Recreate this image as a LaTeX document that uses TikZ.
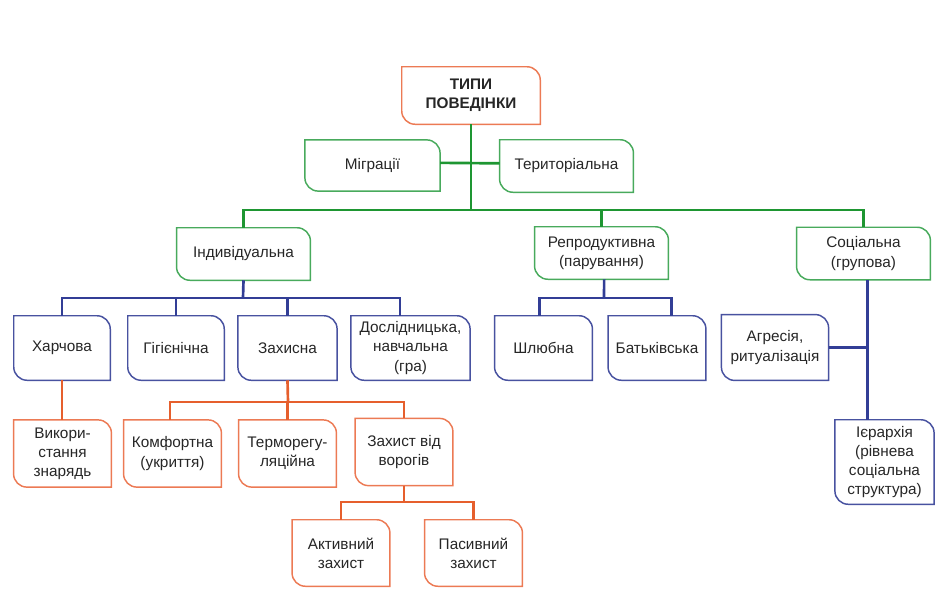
\documentclass[tikz,border=0pt]{standalone}
\usepackage{fontspec}
\setmainfont{Liberation Sans}
\usepackage{xcolor}
\usetikzlibrary{positioning}

\definecolor{orgbox}{RGB}{236,122,84}
\definecolor{orgline}{RGB}{230,95,45}
\definecolor{grnbox}{RGB}{72,170,92}
\definecolor{grnline}{RGB}{30,150,50}
\definecolor{blubox}{RGB}{72,82,160}
\definecolor{bluline}{RGB}{50,62,150}

\begin{document}
\begin{tikzpicture}[
  x=0.75pt, y=-0.75pt,
  font=\fontsize{11.5}{14.3}\selectfont, text=black!85,
  box/.style={align=center, inner sep=1pt, minimum width=73pt, minimum height=48pt},
  wide/.style={box, minimum width=100pt, minimum height=39pt},
  conn/.style={line width=2pt, line join=miter}
]
\useasboundingbox (0,0) rectangle (940,600);

% root and side branches
\node[box, minimum width=103.5pt, minimum height=42.75pt, font=\fontsize{11.5}{14.3}\selectfont\bfseries]
  (top) at (471,95.5) {ТИПИ\\ПОВЕДІНКИ};
\node[wide, minimum width=101pt, minimum height=38pt] (mig) at (372.5,165.5) {Міграції};
\node[wide] (ter) at (566.5,166) {Територіальна};

% main groups
\node[wide] (ind) at (243.5,254) {Індивідуальна};
\node[wide] (rep) at (601.5,253) {Репродуктивна\\(парування)};
\node[wide] (soc) at (863.5,253.5) {Соціальна\\(групова)};

% third level
\node[box, minimum width=72pt] (har) at (62,348) {Харчова};
\node[box, minimum width=72pt] (gig) at (176,348) {Гігієнічна};
\node[box, minimum width=74pt] (zah) at (287.5,348) {Захисна};
\node[box, minimum width=89pt] (dos) at (410.5,348) {Дослідницька,\\навчальна\\(гра)};
\node[box] (shl) at (543.5,348) {Шлюбна};
\node[box] (bat) at (657,348) {Батьківська};
\node[box, minimum width=80pt, minimum height=49pt] (agr) at (775,347.5) {Агресія,\\ритуалізація};
\node[box, minimum width=74pt, minimum height=63pt] (iie) at (884.5,462) {Ієрархія\\(рівнева\\соціальна\\структура)};

% fourth level
\node[box, minimum height=50pt] (vyk) at (62.5,453.5) {Викори-\\стання\\знарядь};
\node[box, minimum height=50pt] (kom) at (172.5,453.5) {Комфортна\\(укриття)};
\node[box, minimum height=50pt] (trm) at (287.5,453.5) {Терморегу-\\ляційна};
\node[box, minimum height=50pt] (zv) at (404,452) {Захист від\\ворогів};

% fifth level
\node[box, minimum height=49.5pt] (akt) at (341,553) {Активний\\захист};
\node[box, minimum height=49.5pt] (pas) at (473.5,553) {Пасивний\\захист};

% box outlines: rounded top right and bottom left
\foreach \n/\c in {top/orgbox, mig/grnbox, ter/grnbox, ind/grnbox, rep/grnbox, soc/grnbox,
                   har/blubox, gig/blubox, zah/blubox, dos/blubox, shl/blubox, bat/blubox,
                   agr/blubox, iie/blubox, vyk/orgbox, kom/orgbox, trm/orgbox, zv/orgbox,
                   akt/orgbox, pas/orgbox}
  \draw[\c, line width=1.1pt] (\n.north west) -- ([xshift=-10pt]\n.north east)
    arc[start angle=90, end angle=0, radius=10pt] -- (\n.south east)
    -- ([xshift=10pt]\n.south west) arc[start angle=-90, end angle=-180, radius=10pt] -- cycle;

% green connectors
\coordinate (gbus) at (471,210);
\draw[conn, grnline] (top.south) -- (gbus);
\draw[conn, grnline] ([yshift=2pt]mig.east) -- ([yshift=2pt]ter.west);
\draw[conn, grnline] (ind.north) |- (gbus) -| (soc.north);
\draw[conn, grnline] (gbus -| rep.north) -- (rep.north);

% blue connectors
\coordinate (ibus) at (243,298);
\draw[conn, bluline] (ind.south) -- (ibus);
\draw[conn, bluline] (har.north) |- (ibus) -| ([xshift=-8pt]dos.north);
\draw[conn, bluline] (ibus -| gig.north) -- (gig.north);
\draw[conn, bluline] (ibus -| zah.north) -- (zah.north);
\coordinate (rbus) at (604,298);
\draw[conn, bluline] ([xshift=2pt]rep.south) -- (rbus);
\draw[conn, bluline] ([xshift=-3pt]shl.north) |- (rbus) -| ([xshift=11pt]bat.north);
\coordinate (sv) at ([xshift=3pt]soc.south);
\draw[conn, bluline] (sv) -- (sv |- iie.north);
\draw[conn, bluline] (agr.east) -- (agr.east -| sv);

% orange connectors
\draw[conn, orgline] (har.south) -- (har.south |- vyk.north);
\coordinate (zbus) at (288,402);
\draw[conn, orgline] (zah.south) -- (zbus);
\draw[conn, orgline] ([xshift=-2pt]kom.north) |- (zbus) -| (zv.north);
\draw[conn, orgline] (zbus -| trm.north) -- (trm.north);
\coordinate (vbus) at (404,502);
\draw[conn, orgline] (zv.south) -- (vbus);
\draw[conn, orgline] (akt.north) |- (vbus) -| (pas.north);
\end{tikzpicture}
\end{document}
